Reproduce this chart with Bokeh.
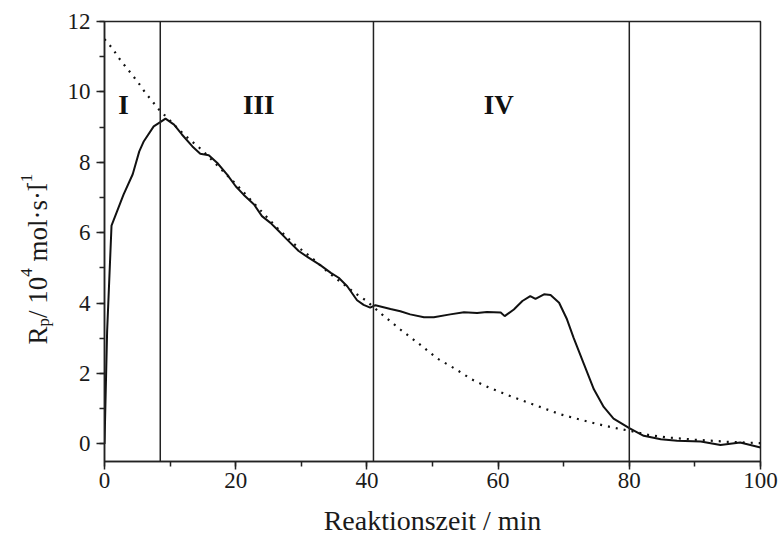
import math
from bokeh.plotting import figure
from bokeh.layouts import row
from bokeh.models import Span, Label, SingleIntervalTicker, Range1d
from bokeh.embed import file_html
from bokeh.resources import INLINE

# measured rate curve
time_min = [0, 0.4, 1.07, 2.9, 4.3, 5.3, 6.0, 7.5, 8.5, 9.3, 10.6, 11.8, 13.4, 14.6,
            15.9, 17.2, 18.7, 20.0, 21.2, 22.8, 24.0, 25.3, 26.6, 27.8, 29.6, 31.1,
            32.9, 34.5, 35.7, 37.0, 38.5, 39.5, 40.5, 41.3, 43.6, 45.1, 46.6, 48.7,
            50.2, 52.7, 54.8, 56.8, 58.3, 60.4, 61.0, 62.4, 63.7, 64.9, 65.7, 67.0,
            68.0, 69.3, 70.5, 71.5, 73.1, 74.6, 76.1, 77.6, 80.0, 82.2, 84.8, 87.3,
            90.9, 93.9, 96.9, 100]
rate = [0, 3.2, 6.2, 7.08, 7.66, 8.31, 8.6, 9.02, 9.14, 9.24, 9.07, 8.79, 8.45, 8.24,
        8.2, 7.98, 7.65, 7.32, 7.08, 6.8, 6.47, 6.28, 6.04, 5.81, 5.48, 5.29,
        5.08, 4.86, 4.72, 4.48, 4.08, 3.95, 3.87, 3.94, 3.83, 3.77, 3.68, 3.6,
        3.6, 3.68, 3.74, 3.72, 3.75, 3.73, 3.63, 3.82, 4.06, 4.2, 4.12, 4.25,
        4.23, 4.01, 3.54, 3.02, 2.26, 1.55, 1.05, 0.72, 0.45, 0.23, 0.13, 0.09,
        0.07, -0.03, 0.04, -0.1]

# dotted reference curve
fit_time = [0, 1.2, 2.2, 3.2, 4.2, 5.2, 6.25, 7.3, 8.3, 12.1, 14.8, 20.1, 22.5, 23.8,
            26.3, 28.9, 31.7, 34.2, 38.3, 39.8, 42.3, 45.1, 47.9, 50.7, 53.3, 56.0,
            58.6, 61.4, 64.2, 67.0, 69.5, 72.3, 74.8, 77.6, 80.4, 83.0, 86, 90, 95, 100]
fit_rate = [11.5, 11.24, 10.96, 10.72, 10.49, 10.25, 9.97, 9.73, 9.5, 8.79, 8.36, 7.37,
            6.89, 6.63, 6.14, 5.68, 5.27, 4.86, 4.27, 4.08, 3.68, 3.25, 2.85, 2.43,
            2.15, 1.83, 1.6, 1.39, 1.2, 1.01, 0.84, 0.7, 0.58, 0.46, 0.36, 0.25,
            0.18, 0.12, 0.06, 0.02]

phase_bounds = [8.5, 41.0, 80.0]
phase_names = ["I", "III", "IV"]
phase_x = [2.9, 23.5, 60.1]

y_label_parts = ["R", "p", "/ 10", "4", "mol\u00b7s\u00b7l", "-1"]

FONT = "Liberation Serif"
AX = "#222222"
TXT = "#1a1a1a"

LEFT_W = 60
p = figure(width=780 - LEFT_W, height=540, output_backend="svg", toolbar_location=None,
           x_range=Range1d(0, 100), y_range=Range1d(-0.5, 12),
           min_border_left=104 - LEFT_W, min_border_right=20, min_border_top=21,
           min_border_bottom=79)
p.background_fill_color = "white"
p.border_fill_color = "white"
p.outline_line_color = AX
p.outline_line_width = 1.5
p.xgrid.visible = False
p.ygrid.visible = False

p.xaxis.ticker = SingleIntervalTicker(interval=20, num_minor_ticks=2)
p.yaxis.ticker = SingleIntervalTicker(interval=2, num_minor_ticks=2)
for ax in (p.xaxis[0], p.yaxis[0]):
    ax.axis_line_color = AX
    ax.axis_line_width = 1.5
    ax.major_tick_line_color = AX
    ax.minor_tick_line_color = AX
    ax.major_tick_line_width = 1.5
    ax.minor_tick_line_width = 1.5
    ax.major_tick_in = 0
    ax.major_tick_out = 8
    ax.minor_tick_in = 0
    ax.minor_tick_out = 5
    ax.major_label_text_font = FONT
    ax.major_label_text_font_size = "23px"
    ax.major_label_text_color = TXT

p.xaxis.axis_label = "Reaktionszeit / min"
p.xaxis.axis_label_text_font = FONT
p.xaxis.axis_label_text_font_size = "28px"
p.xaxis.axis_label_text_font_style = "normal"
p.xaxis.axis_label_text_color = TXT
p.xaxis.axis_label_text_line_height = 0.8
p.xaxis.axis_label_standoff = 14
p.xaxis.major_label_standoff = 3
p.yaxis.major_label_standoff = 6

for b in phase_bounds:
    p.add_layout(Span(location=b, dimension="height", line_color=AX, line_width=1.5))

p.line(fit_time, fit_rate, line_color="#111111", line_width=2.2, line_dash="2 6")
p.line(time_min, rate, line_color="#111111", line_width=2)

for name, xx in zip(phase_names, phase_x):
    p.add_layout(Label(x=xx, y=9.63, text=name, text_align="center",
                       text_baseline="alphabetic", text_font=FONT,
                       text_font_size="27px", text_font_style="bold",
                       text_color="#111111"))

# side panel carrying the rotated y-axis title.  Its frame is aligned by the row
# layout with the main frame (page rows 21..461), so the y range is given in
# page pixel rows, downward.
side = figure(width=LEFT_W, height=540, output_backend="svg", toolbar_location=None,
              x_range=Range1d(0, LEFT_W), y_range=Range1d(461, 21),
              x_axis_location=None, y_axis_location=None,
              min_border=0, min_border_left=0, min_border_right=0,
              min_border_top=21, min_border_bottom=79, outline_line_color=None)
side.grid.visible = False
side.background_fill_color = "white"
side.border_fill_color = "white"

F = 27
f = 17
base_x = 37
start_y = 344
# advance before each piece (gap) and piece widths, in px along the text
gaps = [0, 0, 0, 0, 0.25 * F, 0]
widths = [0.667 * F, 0.5 * f, 1.528 * F, 0.5 * f, 2.723 * F, 0.833 * f]
sizes = [F, f, F, f, F, f]
rises = [0, -0.22 * F, 0, 0.42 * F, 0, 0.42 * F]
cur = start_y
for txt, size, rise, g, w in zip(y_label_parts, sizes, rises, gaps, widths):
    cur -= g
    side.add_layout(Label(x=base_x - rise, y=cur, text=txt,
                          angle=math.pi / 2, text_align="left", text_baseline="alphabetic",
                          text_font=FONT, text_font_size=f"{size}px",
                          text_color=TXT))
    cur -= w

layout = row(side, p, spacing=0)
open("out.html", "w").write(file_html(layout, INLINE))
